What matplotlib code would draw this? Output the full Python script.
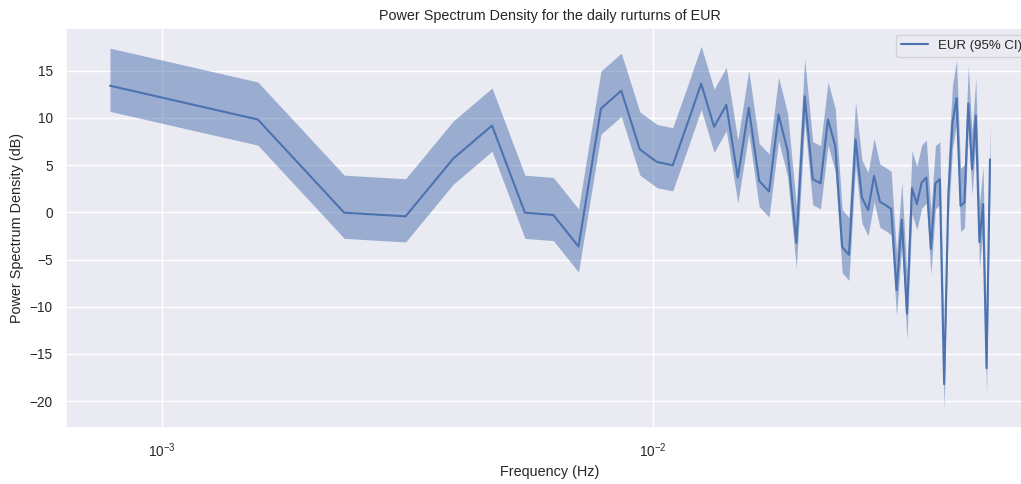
import matplotlib
matplotlib.use("Agg")
import matplotlib.pyplot as plt
import seaborn as sns
import numpy as np

# Frequencies (Hz)
freqs = [0.000785, 0.00157, 0.002355, 0.00314, 0.003925, 0.00471, 0.005495, 0.00628,
         0.007065, 0.00785, 0.008635, 0.00942, 0.010205, 0.01099, 0.011775, 0.01256,
         0.013345, 0.01413, 0.014915, 0.0157, 0.016485, 0.01727, 0.018055, 0.01884,
         0.019625, 0.02041, 0.021195, 0.02198, 0.022765, 0.02355, 0.024335, 0.02512,
         0.025905, 0.02669, 0.027475, 0.02826, 0.029045, 0.02983, 0.030615, 0.0314,
         0.032185, 0.03297, 0.033755, 0.03454, 0.035325, 0.03611, 0.036895, 0.03768,
         0.038465, 0.03925, 0.040035, 0.04082, 0.041605, 0.04239, 0.043175, 0.04396,
         0.044745, 0.04553, 0.046315, 0.0471, 0.047885, 0.04867]

# PSD estimate (dB)
psd_db = [13.42, 9.84, -0.04, -0.42, 5.69, 9.20, -0.04, -0.28,
          -3.62, 11.00, 12.89, 6.67, 5.34, 4.99, 9.40, 13.63,
          9.07, 11.38, 3.69, 11.07, 3.33, 2.21, 10.36, 6.49,
          -3.24, 12.29, 3.51, 3.09, 9.84, 7.05, -3.69, -4.50,
          7.73, 1.58, 0.24, 3.86, 1.12, 0.77, 0.35, -8.26,
          -0.78, -10.72, 2.56, 0.87, 3.16, 3.69, -3.87, 3.09,
          3.51, -18.21, 2.0, 9.5, 12.12, 0.70, 1.05, 11.52,
          4.56, 10.26, -3.16, 0.87, -16.52, 5.62]

# 95% CI offsets (dB)
ci_upper_db = 3.98
ci_lower_db = 2.72

sns.set_theme(style="darkgrid")
plt.rcParams['font.family'] = ['Liberation Sans', 'DejaVu Sans']

fig = plt.figure(figsize=(10.21, 4.84), dpi=100)
ax = fig.add_axes([66/1021, 56/484, (1034-66)/1021, 400/484])

f = np.array(freqs)
p = np.array(psd_db)
color = "#4c72b0"
ax.plot(f, p, color=color, lw=1.5, label="EUR (95% CI)")
ax.fill_between(f, p - ci_lower_db, p + ci_upper_db, color=color, alpha=0.5, lw=0)
ax.set_xscale("log")
ax.set_title("Power Spectrum Density for the daily rurturns of EUR", fontsize=10.4)
ax.set_xlabel("Frequency (Hz)", fontsize=10.4)
ax.set_ylabel("Power Spectrum Density (dB)", fontsize=10.4)
ax.tick_params(labelsize=9.8)
ax.legend(loc="upper right", fontsize=9.5)

fig.savefig("out.png", dpi=100)
